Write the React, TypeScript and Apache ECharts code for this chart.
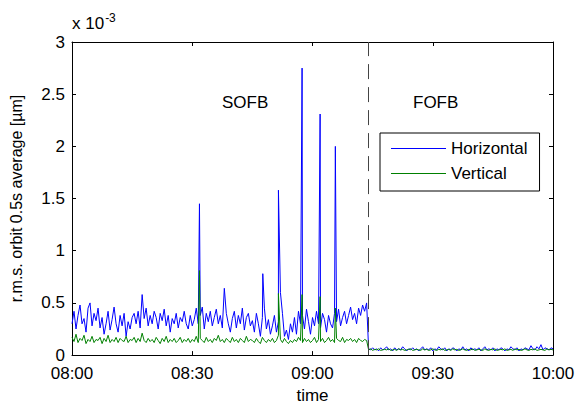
import React, { useEffect, useRef } from "react";
import * as echarts from "echarts";

// time axis: minutes after 08:00
const xTicks = ["08:00", "08:30", "09:00", "09:30", "10:00"];
const switchMinute = 74; // SOFB -> FOFB at 09:14
const sampleStep = 0.5; // minutes between samples

// r.m.s. orbit values (x 10^-3 µm)
const horizontalSOFB = [
  0.30, 0.42, 0.25, 0.38, 0.48, 0.30, 0.35, 0.22, 0.45, 0.50,
  0.28, 0.40, 0.33, 0.45, 0.26, 0.36, 0.20, 0.30, 0.42, 0.24,
  0.34, 0.46, 0.30, 0.22, 0.38, 0.28, 0.40, 0.18, 0.32, 0.25,
  0.36, 0.40, 0.30, 0.42, 0.26, 0.58, 0.35, 0.45, 0.28, 0.38,
  0.30, 0.42, 0.36, 0.25, 0.40, 0.33, 0.44, 0.28, 0.38, 0.22,
  0.35, 0.30, 0.40, 0.26, 0.36, 0.32, 0.42, 0.30, 0.25, 0.38,
  0.28, 0.34, 0.45, 0.30, 0.38, 0.46, 0.25, 0.40, 0.32, 0.42,
  0.28, 0.36, 0.44, 0.30, 0.38, 0.26, 0.64, 0.40, 0.30, 0.22,
  0.35, 0.42, 0.26, 0.38, 0.30, 0.45, 0.24, 0.36, 0.40, 0.28,
  0.33, 0.22, 0.40, 0.30, 0.18, 0.36, 0.45, 0.25, 0.34, 0.20,
  0.28, 0.38, 0.22, 0.32, 0.60, 0.40, 0.18, 0.24, 0.15, 0.30,
  0.22, 0.36, 0.20, 0.42, 0.30, 0.38, 0.25, 0.44, 0.32, 0.20,
  0.36, 0.28, 0.42, 0.30, 0.26, 0.40, 0.34, 0.22, 0.38, 0.30,
  0.26, 0.40, 0.32, 0.44, 0.28, 0.36, 0.42, 0.30, 0.38, 0.46,
  0.34, 0.40, 0.30, 0.45, 0.38, 0.48, 0.42, 0.50,
];

const verticalSOFB = [
  0.17, 0.13, 0.20, 0.12, 0.16, 0.14, 0.19, 0.11, 0.15, 0.13,
  0.18, 0.12, 0.15, 0.14, 0.17, 0.11, 0.16, 0.13, 0.19, 0.12,
  0.15, 0.13, 0.17, 0.12, 0.16, 0.14, 0.13, 0.18, 0.12, 0.15,
  0.14, 0.17, 0.12, 0.16, 0.13, 0.21, 0.14, 0.12, 0.16, 0.13,
  0.15, 0.12, 0.17, 0.14, 0.11, 0.16, 0.13, 0.18, 0.12, 0.15,
  0.13, 0.16, 0.12, 0.14, 0.17, 0.12, 0.15, 0.13, 0.16, 0.12,
  0.15, 0.13, 0.18, 0.12, 0.16, 0.14, 0.12, 0.17, 0.13, 0.15,
  0.12, 0.16, 0.14, 0.19, 0.13, 0.15, 0.12, 0.16, 0.14, 0.12,
  0.17, 0.13, 0.15, 0.12, 0.16, 0.14, 0.12, 0.18, 0.13, 0.15,
  0.14, 0.12, 0.16, 0.13, 0.11, 0.17, 0.14, 0.12, 0.15, 0.13,
  0.16, 0.12, 0.14, 0.19, 0.15, 0.12, 0.16, 0.13, 0.11, 0.14,
  0.12, 0.15, 0.13, 0.17, 0.14, 0.12, 0.16, 0.13, 0.15, 0.12,
  0.14, 0.17, 0.12, 0.15, 0.13, 0.16, 0.12, 0.14, 0.17, 0.13,
  0.15, 0.12, 0.16, 0.14, 0.13, 0.17, 0.12, 0.15, 0.14, 0.16,
  0.13, 0.15, 0.12, 0.16, 0.14, 0.13, 0.15, 0.14,
];

const horizontalFOFB = [
  0.06, 0.05, 0.07, 0.05, 0.06, 0.04, 0.07, 0.05, 0.06, 0.08,
  0.05, 0.06, 0.04, 0.07, 0.05, 0.06, 0.05, 0.08, 0.06, 0.04,
  0.06, 0.05, 0.07, 0.05, 0.06, 0.04, 0.06, 0.08, 0.05, 0.06,
  0.05, 0.07, 0.04, 0.06, 0.05, 0.08, 0.06, 0.05, 0.07, 0.04,
  0.06, 0.05, 0.07, 0.06, 0.04, 0.06, 0.05, 0.08, 0.05, 0.06,
  0.04, 0.07, 0.05, 0.06, 0.05, 0.07, 0.04, 0.06, 0.08, 0.05,
  0.06, 0.05, 0.07, 0.04, 0.06, 0.05, 0.07, 0.06, 0.04, 0.06,
  0.05, 0.08, 0.06, 0.05, 0.07, 0.04, 0.06, 0.05, 0.07, 0.06,
  0.05, 0.09, 0.06, 0.05, 0.08, 0.06, 0.10, 0.05, 0.07, 0.06,
  0.05, 0.07, 0.06,
];

const verticalFOFB = [
  0.05, 0.06, 0.045, 0.055, 0.05, 0.06, 0.045, 0.05, 0.055, 0.05,
  0.06, 0.045, 0.05, 0.055, 0.045, 0.06, 0.05, 0.055, 0.045, 0.05,
  0.055, 0.06, 0.045, 0.05, 0.055, 0.05, 0.045, 0.06, 0.05, 0.055,
  0.045, 0.05, 0.06, 0.05, 0.045, 0.055, 0.05, 0.06, 0.045, 0.05,
  0.055, 0.045, 0.06, 0.05, 0.055, 0.045, 0.05, 0.06, 0.05, 0.045,
  0.055, 0.05, 0.06, 0.045, 0.05, 0.055, 0.05, 0.045, 0.06, 0.05,
  0.045, 0.055, 0.05, 0.06, 0.045, 0.05, 0.055, 0.05, 0.06, 0.045,
  0.05, 0.055, 0.045, 0.06, 0.05, 0.055, 0.045, 0.05, 0.06, 0.05,
  0.045, 0.055, 0.05, 0.06, 0.045, 0.05, 0.055, 0.05, 0.045, 0.06,
  0.05, 0.055, 0.05,
];

// isolated spikes: [minute, value]
const horizontalSpikes = [
  [31.8, 1.45], [47.6, 0.78], [51.5, 1.58], [57.4, 2.75], [61.9, 2.31], [65.7, 2.0],
];
const verticalSpikes = [
  [31.8, 0.81], [51.5, 0.59], [57.4, 0.58], [61.9, 0.56], [65.7, 0.45],
];

function buildSeries(sofb: number[], fofb: number[], spikes: number[][]) {
  const pts: number[][] = [];
  sofb.forEach((v, i) => pts.push([i * sampleStep, v]));
  fofb.forEach((v, i) => pts.push([switchMinute + i * sampleStep, v]));
  spikes.forEach((s) => pts.push([s[0], s[1]]));
  pts.sort((a, b) => a[0] - b[0]);
  return pts;
}

const FONT = "Liberation Sans, Arial, sans-serif";

export default function App() {
  const ref = useRef<HTMLDivElement>(null);
  useEffect(() => {
    document.body.style.margin = "0";
    if (!ref.current) return;
    const chart = echarts.init(ref.current, null, { renderer: "svg" });
    const axisCommon = {
      type: "value" as const,
      axisLine: { show: true, onZero: false, lineStyle: { color: "#000", width: 1 } },
      axisTick: { show: true, inside: true, length: 4, lineStyle: { color: "#000" } },
      splitLine: { show: false },
    };
    chart.setOption({
      animation: false,
      backgroundColor: "#fff",
      textStyle: { fontFamily: FONT },
      grid: { left: 72, top: 42, right: 27, bottom: 46, containLabel: false },
      legend: {
        orient: "vertical",
        left: 380,
        top: 133,
        padding: [7, 12, 9, 11],
        itemGap: 8,
        itemWidth: 55,
        itemHeight: 1,
        icon: "rect",
        borderColor: "#000",
        borderWidth: 1,
        backgroundColor: "#fff",
        textStyle: { fontSize: 17, color: "#000", fontFamily: FONT, lineHeight: 17 },
        data: ["Horizontal", "Vertical"],
      },
      xAxis: [
        {
          ...axisCommon,
          position: "bottom",
          min: 0,
          max: 120,
          interval: 30,
          name: "time",
          nameLocation: "middle",
          nameGap: 30,
          nameTextStyle: { fontSize: 17, color: "#000", fontFamily: FONT },
          axisLabel: {
            fontSize: 17,
            color: "#000",
            margin: 10,
            fontFamily: FONT,
            formatter: (v: number) => xTicks[Math.round(v / 30)] ?? "",
          },
        },
        {
          ...axisCommon,
          position: "top",
          min: 0,
          max: 120,
          interval: 30,
          axisLabel: { show: false },
        },
      ],
      yAxis: [
        {
          ...axisCommon,
          position: "left",
          min: 0,
          max: 3,
          interval: 0.5,
          name: "r.m.s. orbit 0.5s average [µm]",
          nameLocation: "middle",
          nameGap: 48,
          nameTextStyle: { fontSize: 16, color: "#000", fontFamily: FONT },
          axisLabel: { fontSize: 17, color: "#000", margin: 7, fontFamily: FONT },
        },
        {
          ...axisCommon,
          position: "right",
          min: 0,
          max: 3,
          interval: 0.5,
          axisLabel: { show: false },
        },
      ],
      graphic: [
        {
          type: "text",
          left: 72,
          top: 12,
          style: {
            text: "x 10{sup|-3}",
            fontSize: 17,
            fontFamily: FONT,
            fill: "#000",
            rich: { sup: { fontSize: 12, verticalAlign: "top", padding: [0, 0, 10, 1] } },
          },
        },
        { type: "text", left: 222, top: 94, style: { text: "SOFB", fontSize: 17, fontFamily: FONT, fill: "#000" } },
        { type: "text", left: 413, top: 94, style: { text: "FOFB", fontSize: 17, fontFamily: FONT, fill: "#000" } },
      ],
      series: [
        {
          name: "Horizontal",
          type: "line",
          xAxisIndex: 0,
          yAxisIndex: 0,
          symbol: "none",
          showSymbol: false,
          lineStyle: { color: "#0000ff", width: 1 },
          itemStyle: { color: "#0000ff" },
          data: buildSeries(horizontalSOFB, horizontalFOFB, horizontalSpikes),
          markLine: {
            silent: true,
            symbol: "none",
            label: { show: false },
            lineStyle: { color: "#444", width: 1, type: [15, 8] },
            data: [{ xAxis: switchMinute }],
          },
        },
        {
          name: "Vertical",
          type: "line",
          xAxisIndex: 0,
          yAxisIndex: 0,
          symbol: "none",
          showSymbol: false,
          lineStyle: { color: "#008000", width: 1 },
          itemStyle: { color: "#008000" },
          data: buildSeries(verticalSOFB, verticalFOFB, verticalSpikes),
        },
      ],
    });
    return () => chart.dispose();
  }, []);
  return <div ref={ref} style={{ width: 580, height: 409 }} />;
}
